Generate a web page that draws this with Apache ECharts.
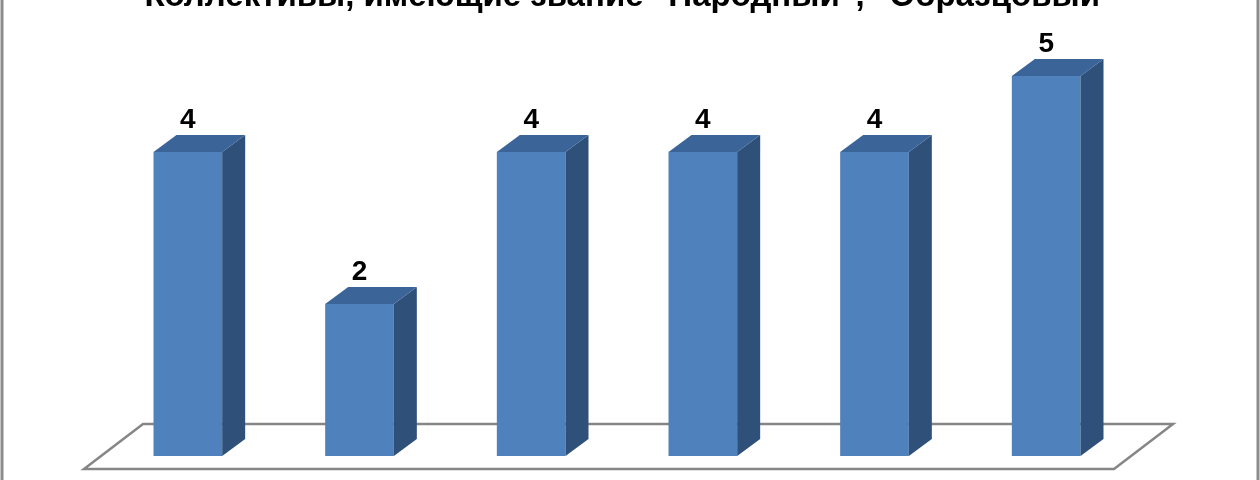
<!DOCTYPE html>
<html>
<head>
<meta charset="utf-8">
<script src="https://cdn.jsdelivr.net/npm/echarts@6/dist/echarts.min.js"></script>
<style>
html, body { margin: 0; padding: 0; background: #fff; }
#chart { width: 1260px; height: 480px; }
</style>
</head>
<body>
<div id="chart"></div>
<script>
var titleText = 'Коллективы, имеющие звание "Народный", "Образцовый"';
var categories = ['1', '2', '3', '4', '5', '6'];
var values = [4, 2, 4, 4, 4, 5];

var myChart = echarts.init(document.getElementById('chart'));

// глубина "3D" столбика
var DX = 23, DY = 17;

function renderBar(params, api) {
  var cs = params.coordSys;
  var base = api.coord([api.value(0), 0]);
  var top = api.coord([api.value(0), api.value(1)]);
  var w = api.size([1, 0])[0] * 0.4;
  var x0 = base[0] - w / 2, x1 = base[0] + w / 2;
  var children = [];

  // пол диаграммы рисуем один раз
  if (params.dataIndex === 0) {
    var fy = base[1];
    children.push({
      type: 'polygon',
      z2: -10,
      shape: {
        points: [
          [cs.x - 18, fy + 13],
          [cs.x + cs.width - 18, fy + 13],
          [cs.x + cs.width + 41, fy - 32],
          [cs.x + 41, fy - 32]
        ]
      },
      style: { fill: '#fff', stroke: '#868686', lineWidth: 2.5 }
    });
  }

  children.push({
    type: 'rect',
    shape: { x: x0, y: top[1], width: w, height: base[1] - top[1] },
    style: { fill: '#4f81bd' }
  });
  children.push({
    type: 'polygon',
    shape: { points: [[x1, top[1]], [x1 + DX, top[1] - DY], [x1 + DX, base[1] - DY], [x1, base[1]]] },
    style: { fill: '#2f5079' }
  });
  children.push({
    type: 'polygon',
    shape: { points: [[x0, top[1]], [x1, top[1]], [x1 + DX, top[1] - DY], [x0 + DX, top[1] - DY]] },
    style: { fill: '#3b6499' }
  });
  children.push({
    type: 'text',
    style: {
      x: base[0],
      y: top[1] - DY - 1,
      text: String(api.value(1)),
      align: 'center',
      verticalAlign: 'bottom',
      fontSize: 28,
      fontWeight: 'bold',
      fontFamily: 'Liberation Sans',
      fill: '#000'
    }
  });
  return { type: 'group', children: children };
}

var option = {
  backgroundColor: '#fff',
  animation: false,
  title: {
    text: titleText,
    left: 'center',
    top: -25,
    textStyle: {
      fontSize: 33,
      fontWeight: 'bold',
      fontFamily: 'Liberation Sans',
      color: '#000'
    }
  },
  grid: { left: 102, right: 128, top: 0, bottom: 24 },
  xAxis: {
    type: 'category',
    data: categories,
    show: false
  },
  yAxis: {
    type: 'value',
    min: 0,
    max: 6,
    show: false
  },
  graphic: [
    { type: 'line', shape: { x1: 2, y1: 0, x2: 2, y2: 480 }, style: { stroke: '#8c8c8c', lineWidth: 3 } },
    { type: 'line', shape: { x1: 1258, y1: 0, x2: 1258, y2: 480 }, style: { stroke: '#8c8c8c', lineWidth: 3 } }
  ],
  series: [{
    type: 'custom',
    renderItem: renderBar,
    encode: { x: 0, y: 1 },
    data: categories.map(function (c, i) { return [i, values[i]]; })
  }]
};
myChart.setOption(option);
</script>
</body>
</html>
